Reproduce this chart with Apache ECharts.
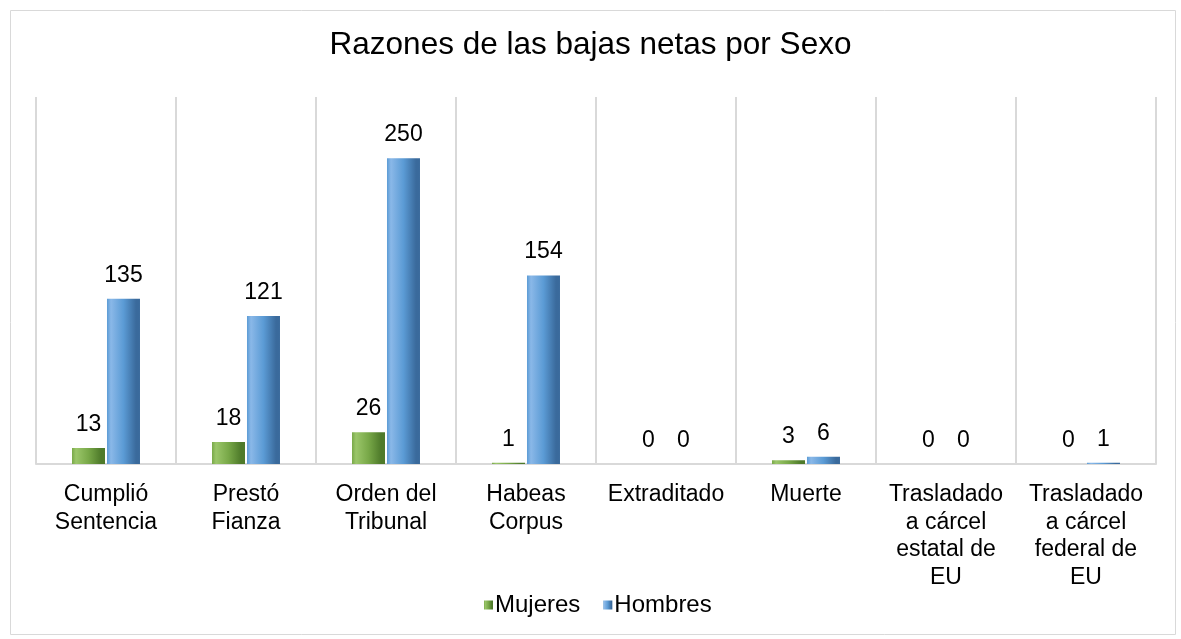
<!DOCTYPE html>
<html>
<head>
<meta charset="utf-8">
<script src="https://cdn.jsdelivr.net/npm/echarts@6/dist/echarts.min.js"></script>
<style>html,body{margin:0;padding:0;background:#fff}#c{width:1181px;height:639px}</style>
</head>
<body>
<div id="c"></div>
<script>
const categories = ['Cumplió\nSentencia', 'Prestó\nFianza', 'Orden del\nTribunal', 'Habeas\nCorpus', 'Extraditado', 'Muerte', 'Trasladado\na cárcel\nestatal de\nEU', 'Trasladado\na cárcel\nfederal de\nEU'];
const mujeres = [13, 18, 26, 1, 0, 3, 0, 0];
const hombres = [135, 121, 250, 154, 0, 6, 0, 1];
const seriesNames = ['Mujeres', 'Hombres'];

const chart = echarts.init(document.getElementById('c'));
const font = 'Liberation Sans, Arial, sans-serif';
function grad(light, mid, dark) {
  return new echarts.graphic.LinearGradient(0, 0, 1, 0, [
    {offset: 0, color: mid},
    {offset: 0.12, color: light},
    {offset: 0.5, color: mid},
    {offset: 0.88, color: dark},
    {offset: 1, color: dark}
  ]);
}
chart.setOption({
  animation: false,
  textStyle: {fontFamily: font},
  graphic: [{
    type: 'rect', left: 8, top: 8,
    shape: {width: 1165, height: 624},
    style: {fill: 'none', stroke: '#d9d9d9', lineWidth: 1}
  }],
  title: {
    text: 'Razones de las bajas netas por Sexo',
    left: 'center', top: 24, padding: [5, 0, 5, 7],
    textStyle: {fontSize: 31.5, fontWeight: 'normal', color: '#000', fontFamily: font}
  },
  legend: {
    bottom: 17, left: 479, itemWidth: 9, itemHeight: 9, itemGap: 23,
    icon: 'rect',
    textStyle: {fontSize: 24, color: '#000', fontFamily: font, padding: [0, 0, 0, -3]},
    data: seriesNames
  },
  grid: {left: 36, right: 25, top: 97, bottom: 175},
  xAxis: {
    type: 'category', data: categories,
    axisLine: {lineStyle: {color: '#d9d9d9', width: 2}},
    axisTick: {show: false},
    splitLine: {show: true, lineStyle: {color: '#d9d9d9', width: 2}},
    axisLabel: {fontSize: 23, color: '#000', lineHeight: 27.5, margin: 17, interval: 0, fontFamily: font}
  },
  yAxis: {type: 'value', min: 0, max: 300, show: false, splitLine: {show: false}},
  series: [
    {
      name: seriesNames[0], type: 'bar', data: mujeres,
      barWidth: 33, barGap: '6%',
      itemStyle: {color: grad('#9bc66a', '#78a848', '#4e7a2a')},
      label: {show: true, position: 'top', distance: 12, fontSize: 23, color: '#000', fontFamily: font}
    },
    {
      name: seriesNames[1], type: 'bar', data: hombres,
      barWidth: 33,
      itemStyle: {color: grad('#8ab8e8', '#5b9bd5', '#3a6a9c')},
      label: {show: true, position: 'top', distance: 12, fontSize: 23, color: '#000', fontFamily: font}
    }
  ]
});
</script>
</body>
</html>
